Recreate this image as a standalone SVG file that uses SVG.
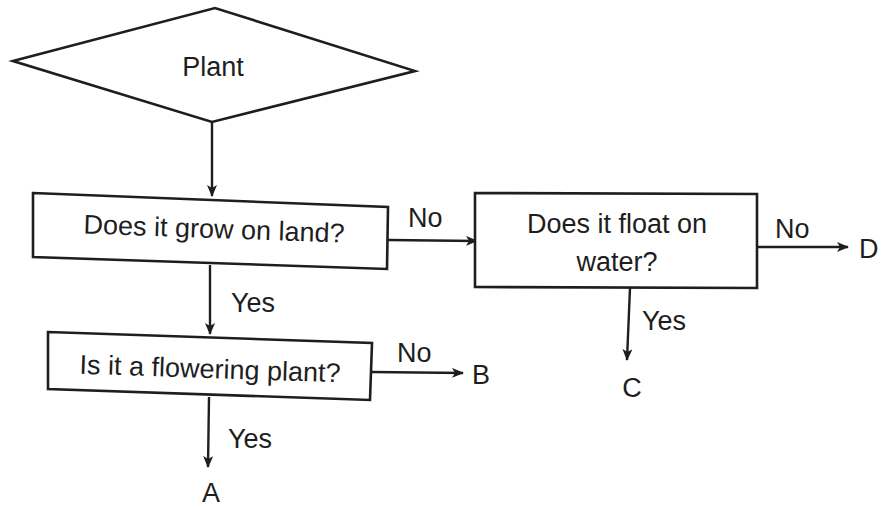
<svg xmlns="http://www.w3.org/2000/svg" width="882" height="507" viewBox="0 0 882 507">
<style>
.shape{fill:#fff;stroke:#1e1e1e;stroke-width:2.6;stroke-linejoin:miter}
.line{fill:none;stroke:#1e1e1e;stroke-width:2.4}
text{font-family:"Liberation Sans",Arial,sans-serif;font-size:27px;fill:#1e1e1e}
.c{text-anchor:middle}
</style>
<defs>
<marker id="ah" viewBox="0 0 12 10" refX="11" refY="5" markerWidth="12" markerHeight="10" markerUnits="userSpaceOnUse" orient="auto">
<path d="M0,0 L12,5 L0,10 L3,5 Z" fill="#1e1e1e"/>
</marker>
</defs>
<rect width="882" height="507" fill="#fff"/>
<g id="connectors">
<line class="line" x1="212" y1="123" x2="212" y2="196" marker-end="url(#ah)"/>
<line class="line" x1="388" y1="240" x2="477" y2="241" marker-end="url(#ah)"/>
<line class="line" x1="210" y1="265" x2="210" y2="334" marker-end="url(#ah)"/>
<line class="line" x1="757" y1="247" x2="848" y2="247" marker-end="url(#ah)"/>
<line class="line" x1="630" y1="288" x2="627" y2="360" marker-end="url(#ah)"/>
<line class="line" x1="372" y1="372" x2="463" y2="373" marker-end="url(#ah)"/>
<line class="line" x1="209" y1="397" x2="208" y2="467" marker-end="url(#ah)"/>
<text x="408" y="227">No</text>
<text x="231" y="312">Yes</text>
<text x="775" y="238">No</text>
<text x="642" y="330">Yes</text>
<text x="397" y="362">No</text>
<text x="228" y="448">Yes</text>
</g>
<g id="plant">
<polygon class="shape" points="13,61 215,8 415,71 212,122"/>
<text class="c" x="213" y="76">Plant</text>
</g>
<g id="land">
<polygon class="shape" points="33,193 388,207 387,269 33,257"/>
<text class="c" x="214" y="238" transform="rotate(2 214 230)">Does it grow on land?</text>
</g>
<g id="float">
<polygon class="shape" points="475,193 757,194 757,288 475,287"/>
<text class="c" x="617" y="233">Does it float on</text>
<text class="c" x="617" y="271">water?</text>
</g>
<g id="flowering">
<polygon class="shape" points="48,332 372,343 370,400 48,389"/>
<text class="c" x="210" y="378" transform="rotate(1.9 210 370)">Is it a flowering plant?</text>
</g>
<g id="A"><text class="c" x="211" y="502">A</text></g>
<g id="B"><text x="472" y="384">B</text></g>
<g id="C"><text class="c" x="632" y="397">C</text></g>
<g id="D"><text x="859" y="258">D</text></g>
</svg>
